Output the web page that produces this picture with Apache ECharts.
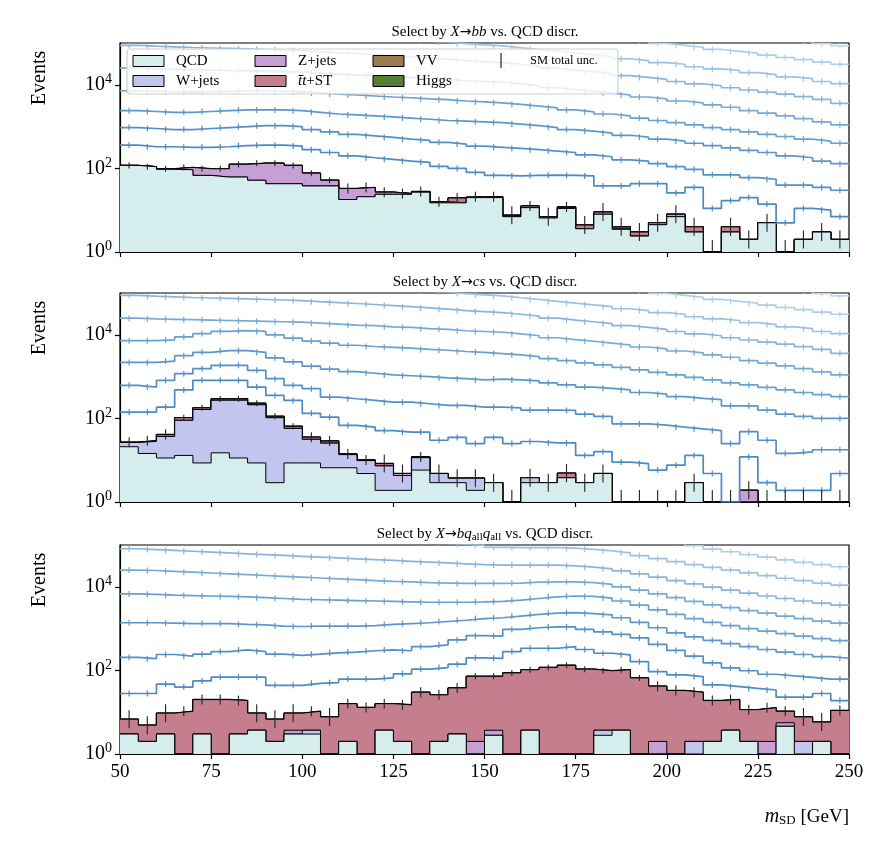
<!DOCTYPE html>
<html>
<head>
<meta charset="utf-8">
<script src="https://cdn.jsdelivr.net/npm/echarts@6/dist/echarts.min.js"></script>
<style>html,body{margin:0;padding:0;background:#fff}#chart{width:890px;height:844px}</style>
</head>
<body>
<div id="chart"></div>
<script>
// bin low edges (5 GeV bins), axis ticks
var binLow = [50,55,60,65,70,75,80,85,90,95,100,105,110,115,120,125,130,135,140,145,
              150,155,160,165,170,175,180,185,190,195,200,205,210,215,220,225,230,235,240,245];
var xTicks = [50,75,100,125,150,175,200,225,250];
var zeros40 = [0,0,0,0,0,0,0,0,0,0,0,0,0,0,0,0,0,0,0,0,0,0,0,0,0,0,0,0,0,0,0,0,0,0,0,0,0,0,0,0];

// ---- panel 1: X->bb ----
var bbQCD = [118,110,95,93,68,62,62,52,43,43,38,38,18,21,24,24,27,15,15,20,
             20,7,11.5,6.5,11,3.6,8,3.5,2.4,4.5,7,3,0,3,2,5,0,2,3,2];
var bbW = zeros40;
var bbZ = [0,0,3,12,30,36,63,81,90,75,39,14,15,14,3,1,1,1,0,1,
           0,0.3,1.1,0.5,0.5,0,1,0.2,0,0.5,1,0,0,0,0,0,0,0,0,0];
var bbTT = [0,0,0,0,0,0,0,0,0,0,0,0,0,0,0,0,0,0,4.6,0,
            1,0.3,0,0,0.5,0.8,0,0.3,0.6,0,0,1,0,1,0,0,0,0,0,0];
var bbVV = zeros40;
var bbHiggs = zeros40;
var bbL1 = [360,330,330,320,320,330,350,360,360,340,280,240,200,180,165,150,140,112,100,80,
            68,66,68,69,68,66,38,38,43,43,26,35,11,17,20,14,5,11,10,7];
var bbL2 = [950,900,850,850,900,950,1000,1050,1050,1000,850,750,650,600,550,500,470,420,380,340,
            320,300,280,260,240,210,190,160,150,130,110,95,70,70,60,55,40,40,35,30];
var bbL3 = [2400,2300,2200,2200,2300,2400,2500,2500,2500,2400,2200,2000,1900,1800,1700,1600,1500,1400,1350,1300,
            1250,1150,1050,950,850,780,700,620,560,500,450,400,350,310,270,240,200,180,150,130];
var bbL4 = [7200,7000,6800,6800,6900,7000,7200,7200,7000,6800,6400,6000,5700,5400,5100,4900,4600,4400,4100,3900,
            3700,3400,3100,2800,2500,2250,2000,1800,1600,1400,1250,1100,950,850,750,650,580,500,450,400];
var bbL5 = [25000,24000,23500,23000,22500,22000,21500,21000,20500,20000,19000,18000,17000,16500,15500,15000,14000,13500,12500,12000,
            11500,10500,9500,8500,7700,7000,6300,5700,5100,4600,4100,3700,3300,2900,2400,2100,1800,1550,1300,1100];
var bbL6 = [88000,84000,81000,78000,76000,74000,72000,70000,68000,66000,62000,59000,56000,53000,50000,47000,44000,41000,38000,36000,
            34000,31000,28000,25000,22500,20500,18500,16500,15000,13500,12000,10500,9500,8500,7500,6700,6000,5200,4500,3600];
var bbL7 = [250000,240000,230000,220000,210000,200000,195000,190000,180000,175000,165000,155000,145000,135000,125000,120000,110000,105000,97000,90000,
            85000,77000,70000,63000,57000,52000,47000,42000,38000,34000,31000,27000,24000,22000,19500,17500,15500,14000,12000,10700];
var bbL8 = [700000,680000,650000,620000,600000,580000,560000,540000,520000,500000,470000,440000,410000,380000,360000,340000,320000,300000,280000,260000,
            245000,220000,200000,180000,165000,150000,135000,120000,110000,98000,88000,79000,70000,63000,57000,51000,45000,40000,35000,31000];
var bbL9 = [2000000,1900000,1850000,1800000,1700000,1650000,1600000,1550000,1500000,1450000,1350000,1250000,1150000,1050000,1000000,950000,900000,850000,800000,740000,
            680000,620000,560000,510000,460000,420000,380000,340000,310000,280000,250000,220000,195000,175000,155000,135000,120000,108000,96000,85000];

// ---- panel 2: X->cs ----
var csQCD = [21,14.5,11.3,13,8.6,15,11.3,8.6,2.9,8.6,8.6,6.6,6.6,4.8,1.9,1.9,5.8,2.9,2.9,1.9,
             2.9,0,2.9,2.9,3.8,2.9,4.8,0,0,0,0,2.9,0,0,0,0,0,0,0,0];
var csW = [5.5,13.7,25.7,77,155,257,261,203,101,49,23,19,7,5,5.4,2.4,5.7,1.9,0.8,1.8,
           0,0,0.9,0,0,0,0,0,0,0,0,0,0,0,0,0,0,0,0,0];
var csZ = [0,0,0,0,0,0,3,3,0,0,0,0,0,0,0,0.5,0,0,0,0,
           0,0,0,0,0,0,0,0,0,0,0,0,0,0,1.9,0,0,0,0,0];
var csTT = [0.5,0.8,4,14,15,20,20,15,8,7,4,3,0.5,0.3,1,0,0.5,0,0,0,
            0,0,0,0,1.1,0,0,0,0,0,0,0,0,0,0,0,0,0,0,0];
var csVV = zeros40;
var csHiggs = zeros40;
var csL1 = [141,141,186,479,813,813,813,562,355,269,132,107,68,62,51,47,47,30,35,25,
            35,25,28,26,26,13,16,9,8.3,5.8,7.6,13,4.8,0,12,2.9,1.9,1.9,1.9,4.8];
var csL2 = [617,562,813,1175,1549,1862,1862,1413,891,617,513,324,295,269,245,245,224,204,204,186,
            186,178,158,158,155,126,112,74,74,69,62,56,51,25,48,30,14.5,15.8,17.8,17.8];
var csL3 = [2188,2188,2344,3162,3802,4169,4169,3802,2818,2239,1778,1514,1318,1202,1096,1047,1000,933,891,832,
            871,832,794,708,631,562,525,479,417,380,331,302,282,200,200,158,126,112,100,100];
var csL4 = [7244,7244,7586,8913,10715,12023,12589,12023,10000,8318,7079,6310,5623,5248,5012,4786,4467,4266,3981,3802,
            3548,3311,3020,2692,2399,2138,1905,1660,1445,1259,1096,955,832,708,631,550,479,417,372,331];
var csL5 = bbL5, csL6 = bbL6, csL7 = bbL7, csL8 = bbL8, csL9 = bbL9;

// ---- panel 3: X->bqq ----
var bqqQCD = [3,2,3,0,3,0,3,3.7,2,3,3,0,2,0,3.7,2,0,2,3,0,
              2.8,0,3.7,0,0,0,2.8,3.7,0,0,0,0,2,3.7,2,0,4.6,0,2,0];
var bqqW = [0,0,0,0,0,0,0,0,0,0,0.7,0,0,0,0,0,0,0,0,0,
            0,0,0,0,0,0,0.9,0,0,0,0,2,0,0,0,0,0,2,0,0];
var bqqZ = [0,0,0,0,0,0,0,0,0,0.7,0,0,0,0,0,0,0,0,0,2,
            0.9,0,0,0,0,0,0,0,0,2,0,0,0,0,0,2,1,0,0,0];
var bqqTT = [3.8,2.9,6.5,10.5,17,20,16,5.8,4.8,5.8,6.8,7.7,14,13,12.3,13,30,24,35,70,
             68.3,87,100,118,132,107,94.3,100,66,40,33,28,17,16.3,9.5,10.8,4.9,5.7,3.8,11];
var bqqVV = zeros40;
var bqqHiggs = zeros40;
var bqqL1 = [28,28,47,40,56,69,69,69,44,44,49,51,62,62,66,83,107,117,141,200,
             195,282,339,339,372,316,257,234,162,93,78,71,45,41,37,34,23,23,28,19];
var bqqL2 = [204,191,240,219,245,282,309,282,245,229,245,263,275,295,309,295,372,407,537,676,
             661,955,1047,1096,1096,955,832,724,600,420,300,220,151,115,98,81,74,68,62,62];
var bqqL3 = [1380,1380,1349,1318,1318,1318,1259,1230,1148,1122,1148,1148,1148,1175,1259,1318,1380,1479,1585,1738,
             1820,1995,2188,2344,2399,2291,2138,1820,1413,1047,794,631,525,437,372,316,275,240,214,195];
var bqqL4 = [6761,6607,6310,6166,6026,5888,5754,5495,5248,5012,4898,4786,4677,4571,4467,4365,4266,4266,4266,4365,
             4467,4786,5248,5754,6026,5888,5370,4571,3631,2818,2188,1738,1413,1175,1000,871,759,661,575,513];
var bqqL5 = [25119,24547,23442,22387,21380,20417,19498,18621,17783,16982,16218,15488,14791,14125,13490,13183,12589,12303,12023,12023,
             12023,12303,12882,13183,13183,12589,11482,10000,8318,6761,5495,4467,3715,3162,2692,2344,1995,1738,1514,1349];
var bqqL6 = [81283,77625,74131,70795,67608,64565,61660,58884,56234,53703,51286,48978,46774,44668,42658,40738,38905,37154,35481,33884,
             33113,33113,33113,33113,31623,29512,26915,23988,20417,16982,14125,11749,9772,8318,7079,6026,5248,4571,4074,3631];
var bqqL7 = [240000,228000,218000,208000,199000,190000,181000,173000,165000,158000,151000,144000,138000,131000,125000,120000,114000,109000,104000,99000,
             88000,87000,87000,87000,84000,79000,72000,65000,56000,47000,40000,34000,29000,25000,21500,18500,16000,14000,12300,11000];
var bqqL8 = [660000,630000,600000,572000,547000,522000,498000,476000,454000,434000,415000,396000,379000,360000,344000,330000,314000,300000,286000,272000,
             267000,264000,264000,264000,253000,236000,214000,192000,165000,138000,116000,96000,80000,69000,59000,51000,44000,38500,34000,30200];

var panels = [
  {top: 43, stack: [bbQCD, bbW, bbZ, bbTT, bbVV, bbHiggs], lines: [bbL1,bbL2,bbL3,bbL4,bbL5,bbL6,bbL7,bbL8,bbL9]},
  {top: 293, stack: [csQCD, csW, csZ, csTT, csVV, csHiggs], lines: [csL1,csL2,csL3,csL4,csL5,csL6,csL7,csL8,csL9]},
  {top: 545, stack: [bqqQCD, bqqW, bqqZ, bqqTT, bqqVV, bqqHiggs], lines: [bqqL1,bqqL2,bqqL3,bqqL4,bqqL5,bqqL6,bqqL7,bqqL8]}
];

var stackColors = ['#d6eded', '#c2c6ee', '#c69fd5', '#c47e8e', '#9c7b4d', '#587d34'];
var lineColors = ['#4b8bc4', '#5390c7', '#5c97cb', '#68a0d0', '#76a9d5', '#89b5db', '#9cc1e1', '#afcde7', '#c2d9ed'];
var FONT = 'Liberation Serif';

function stepPts(vals) {
  var pts = vals.map(function (v, i) { return [binLow[i], v > 0 ? v : 1]; });
  pts.push([250, vals[vals.length - 1] > 0 ? vals[vals.length - 1] : 1]);
  return pts;
}
function centers(vals) {
  return vals.map(function (v, i) { return [binLow[i] + 2.5, v]; });
}
function errSeries(k, vals, color, black) {
  return {
    type: 'custom', xAxisIndex: k, yAxisIndex: k, z: black ? 20 : 12, clip: true, silent: true,
    data: centers(vals),
    renderItem: function (params, api) {
      var x = api.value(0), v = api.value(1);
      var p = api.coord([x, v > 0 ? v : 1]);
      var y1, y2;
      if (black) {
        if (v <= 0) { y1 = p[1] - 12; y2 = p[1]; }
        else { var h = v >= 50 ? 3 : (v >= 10 ? 5 : 9); y1 = p[1] - h; y2 = p[1] + h; }
      } else { y1 = p[1] - 3; y2 = p[1] + 3; }
      return {type: 'line', shape: {x1: p[0], y1: y1, x2: p[0], y2: y2},
              style: {stroke: color, lineWidth: black ? 1.1 : 1.2}};
    }
  };
}

var grids = [], xAxes = [], yAxes = [], series = [];
panels.forEach(function (pn, k) {
  grids.push({left: 120, right: 41, top: pn.top, height: 209, show: true, borderColor: '#000', borderWidth: 1.2, backgroundColor: 'transparent'});
  xAxes.push({type: 'value', gridIndex: k, min: 50, max: 250, interval: 25,
    axisLine: {show: true, lineStyle: {color: '#000', width: 1.2}},
    axisTick: {show: true, length: 5, lineStyle: {color: '#000', width: 1.2}},
    axisLabel: {show: k === 2, color: '#000', fontFamily: FONT, fontSize: 19, margin: 9,
      formatter: function (v) { return xTicks.indexOf(v) >= 0 ? String(v) : ''; }},
    splitLine: {show: false}});
  yAxes.push({type: 'log', logBase: 100, gridIndex: k, min: 1, max: 100000,
    axisLine: {show: true, lineStyle: {color: '#000', width: 1.2}},
    axisTick: {show: true, length: 5, lineStyle: {color: '#000', width: 1.2}},
    axisLabel: {color: '#000', fontFamily: FONT, fontSize: 20, margin: 8, showMaxLabel: false,
      formatter: function (v) { return '10{s|' + Math.round(Math.log10(v)) + '}'; },
      rich: {s: {fontSize: 14, fontFamily: FONT, color: '#000', padding: [0, 0, 11, 0]}}},
    splitLine: {show: false}, minorTick: {show: false}});

  // cumulative stack
  var cum = [], run = binLow.map(function () { return 0; });
  pn.stack.forEach(function (arr) {
    run = run.map(function (r, i) { return r + arr[i]; });
    cum.push(run.slice());
  });
  for (var j = cum.length - 1; j >= 0; j--) {
    series.push({type: 'line', xAxisIndex: k, yAxisIndex: k, step: 'end', symbol: 'none', silent: true,
      z: 2 + (cum.length - j), data: stepPts(cum[j]),
      lineStyle: {color: '#000', width: j === cum.length - 1 ? 1.5 : 1},
      areaStyle: {color: stackColors[j], opacity: 1, origin: 'start'}});
  }
  var total = cum[cum.length - 1];
  series.push(errSeries(k, total, '#222', true));

  pn.lines.forEach(function (arr, i) {
    series.push({type: 'line', xAxisIndex: k, yAxisIndex: k, step: 'end', symbol: 'none', silent: true,
      z: 10 - i * 0.1, data: stepPts(arr), lineStyle: {color: lineColors[i], width: 1.7}});
    series.push(errSeries(k, arr, lineColors[i], false));
  });
});

var titleRich = {
  i: {fontStyle: 'italic', fontFamily: FONT, fontSize: 15, color: '#000'},
  a: {fontFamily: 'DejaVu Sans', fontSize: 14, color: '#000'},
  sub: {fontFamily: FONT, fontSize: 11, color: '#000', padding: [6, 0, 0, 0]}
};
function txt(x, y, s, opts) {
  var o = {type: 'text', x: x, y: y, z: 100,
    style: Object.assign({text: s, fontFamily: FONT, fontSize: 15, fill: '#000', align: 'center', verticalAlign: 'middle', rich: titleRich}, opts || {})};
  return o;
}
var titles = [
  'Select by {i|X}{a|\u2192}{i|bb} vs. QCD discr.',
  'Select by {i|X}{a|\u2192}{i|cs} vs. QCD discr.',
  'Select by {i|X}{a|\u2192}{i|bq}{sub|all}{i|q}{sub|all} vs. QCD discr.'
];
var graphics = [];
titles.forEach(function (t, k) { graphics.push(txt(485, panels[k].top - 11, t)); });
panels.forEach(function (pn) {
  graphics.push({type: 'text', x: 40, y: pn.top + 35, rotation: Math.PI / 2, z: 100,
    style: {text: 'Events', fontFamily: FONT, fontSize: 20, fill: '#000', align: 'center', verticalAlign: 'middle'}});
});
graphics.push(txt(849, 817, '{m|m}{sd|SD} [GeV]', {align: 'right', fontSize: 19,
  rich: {m: {fontStyle: 'italic', fontFamily: FONT, fontSize: 20, color: '#000'},
         sd: {fontFamily: FONT, fontSize: 13, color: '#000', padding: [8, 0, 0, 0]}}}));

// legend
graphics.push({type: 'rect', z: 50, shape: {x: 127, y: 49, width: 491, height: 45, r: 3},
  style: {fill: 'rgba(255,255,255,0.8)', stroke: '#cfcfcf', lineWidth: 1.2}});
var legendItems = [
  ['QCD', 0, 133, 61], ['W+jets', 1, 133, 81], ['Z+jets', 2, 255, 61],
  ['{i|t\u0304t}+ST', 3, 255, 81], ['VV', 4, 373, 61], ['Higgs', 5, 373, 81]
];
legendItems.forEach(function (it) {
  graphics.push({type: 'rect', z: 51, shape: {x: it[2], y: it[3] - 5.5, width: 31, height: 11},
    style: {fill: stackColors[it[1]], stroke: '#000', lineWidth: 1}});
  graphics.push(txt(it[2] + 43, it[3], it[0], {align: 'left', fontSize: 15,
    rich: {i: {fontStyle: 'italic', fontFamily: FONT, fontSize: 15, color: '#000'}}}));
});
graphics.push({type: 'line', z: 51, shape: {x1: 501, y1: 53, x2: 501, y2: 68}, style: {stroke: '#222', lineWidth: 1.2}});
graphics.push(txt(530, 61, 'SM total unc.', {align: 'left', fontSize: 12.5}));

var chart = echarts.init(document.getElementById('chart'));
chart.setOption({
  animation: false,
  backgroundColor: '#fff',
  grid: grids, xAxis: xAxes, yAxis: yAxes, series: series,
  graphic: graphics
});
</script>
</body>
</html>
